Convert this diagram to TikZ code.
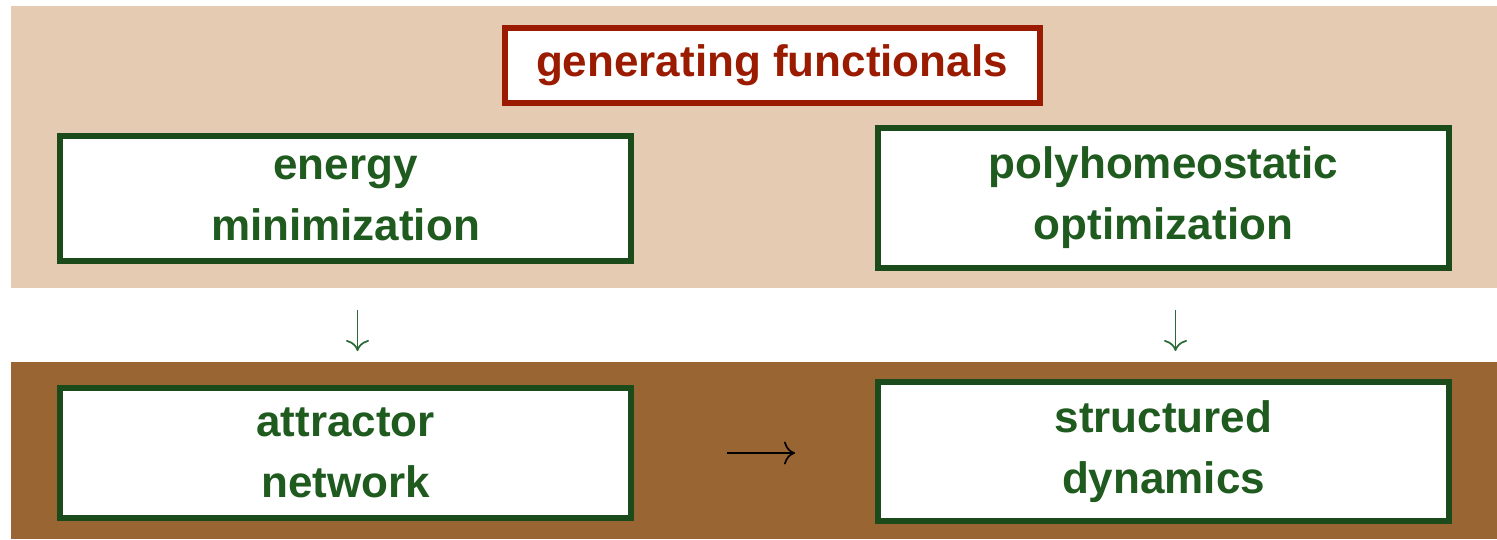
\documentclass[tikz,border=0pt]{standalone}
\usepackage{fontspec}
\setmainfont{Liberation Sans}
\usetikzlibrary{arrows.meta}
\definecolor{bandlight}{HTML}{E5CBB1}
\definecolor{banddark}{HTML}{996633}
\definecolor{boxgreen}{HTML}{1B4B1B}
\definecolor{txtgreen}{HTML}{1F5A1F}
\definecolor{boxred}{HTML}{9B1B00}
\definecolor{arrgreen}{HTML}{2A6A35}
\tikzset{
  greenbox/.style={draw=boxgreen, line width=6pt, fill=white, minimum width=571pt,
    align=center, text=txtgreen, font=\bfseries\fontsize{44}{61}\selectfont, inner sep=0pt},
  redbox/.style={draw=boxred, line width=6pt, fill=white, minimum width=535pt, minimum height=75pt,
    text=boxred, font=\bfseries\fontsize{44}{52}\selectfont, inner sep=0pt},
  flowarrow/.style={line width=1.7pt, -{To[length=11pt,width=23pt]}}
}
\begin{document}
\begin{tikzpicture}[x=1pt,y=-1pt]
\useasboundingbox (0,0) rectangle (1497,539);
\fill[white] (0,0) rectangle (1497,539);
\fill[bandlight] (11,6) rectangle (1497,288);
\fill[banddark] (11,362) rectangle (1497,539);
\node[redbox] (gf) at (772,65.5) {\raisebox{-2pt}{generating functionals}};
\node[greenbox, minimum height=125pt] (em) at (345.5,198.5) {energy\\minimization};
\node[greenbox, minimum height=140pt] (po) at (1163.5,198) {polyhomeostatic\\optimization};
\node[greenbox, minimum height=130pt] (an) at (345.5,453) {attractor\\network};
\node[greenbox, minimum height=139pt] (sd) at (1163.5,451.5) {structured\\dynamics};
\draw[flowarrow, arrgreen, shorten <=46pt, shorten >=34pt] ([xshift=12pt]em.south) -- ([xshift=12pt]an.north);
\draw[flowarrow, arrgreen, shorten <=39pt, shorten >=28pt] ([xshift=12pt]po.south) -- ([xshift=12pt]sd.north);
\draw[flowarrow, black, shorten <=93pt, shorten >=80pt] (an.east) -- (an.east -| sd.west);
\end{tikzpicture}
\end{document}
